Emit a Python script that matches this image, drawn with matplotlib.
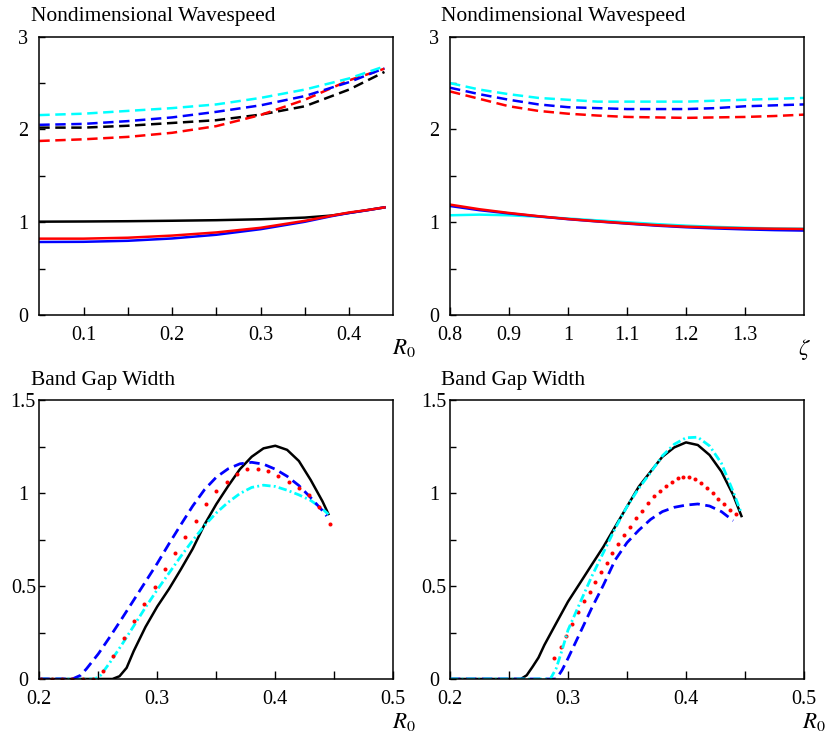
import matplotlib
matplotlib.use("Agg")
import matplotlib.pyplot as plt
from matplotlib.ticker import FixedLocator, FuncFormatter

plt.rcParams['font.family'] = ['Liberation Serif', 'DejaVu Serif']
plt.rcParams['mathtext.fontset'] = 'stix'
plt.rcParams['lines.scale_dashes'] = False

# ---------------- data: top-left (wavespeed vs R0) ----------------
r0_dash = [0.05, 0.10, 0.15, 0.20, 0.25, 0.30, 0.35, 0.40, 0.44]
tl_cyan_dash = [2.155, 2.17, 2.20, 2.23, 2.27, 2.34, 2.43, 2.55, 2.68]
tl_blue_dash = [2.05, 2.06, 2.09, 2.13, 2.19, 2.26, 2.36, 2.51, 2.66]
tl_black_dash = [2.02, 2.02, 2.04, 2.07, 2.10, 2.16, 2.25, 2.43, 2.62]
tl_red_dash = [1.876, 1.894, 1.92, 1.964, 2.036, 2.156, 2.32, 2.53, 2.655]

r0_solid = [0.05, 0.10, 0.15, 0.20, 0.25, 0.30, 0.35, 0.38, 0.40, 0.42, 0.44]
tl_black_solid = [1.006, 1.008, 1.011, 1.016, 1.022, 1.032, 1.05, 1.072, 1.10, 1.13, 1.16]
tl_red_solid = [0.823, 0.823, 0.833, 0.856, 0.89, 0.94, 1.015, 1.07, 1.105, 1.13, 1.16]
tl_blue_solid = [0.787, 0.789, 0.80, 0.825, 0.865, 0.925, 1.005, 1.065, 1.10, 1.128, 1.16]

# ---------------- data: top-right (wavespeed vs zeta) ----------------
zeta = [0.80, 0.85, 0.90, 0.95, 1.00, 1.05, 1.10, 1.15, 1.20, 1.25, 1.30, 1.35, 1.40]
tr_cyan_dash = [2.50, 2.43, 2.38, 2.34, 2.32, 2.30, 2.30, 2.30, 2.30, 2.31, 2.32, 2.33, 2.34]
tr_blue_dash = [2.45, 2.38, 2.32, 2.27, 2.24, 2.23, 2.22, 2.22, 2.22, 2.23, 2.25, 2.26, 2.27]
tr_red_dash = [2.41, 2.33, 2.25, 2.20, 2.17, 2.15, 2.135, 2.13, 2.125, 2.13, 2.135, 2.145, 2.16]
tr_cyan_solid = [1.075, 1.082, 1.075, 1.06, 1.04, 1.02, 1.0, 0.98, 0.963, 0.95, 0.94, 0.933, 0.93]
tr_blue_solid = [1.175, 1.13, 1.095, 1.063, 1.033, 1.008, 0.985, 0.963, 0.946, 0.933, 0.923, 0.915, 0.91]
tr_red_solid = [1.19, 1.14, 1.10, 1.065, 1.035, 1.01, 0.988, 0.968, 0.952, 0.942, 0.935, 0.93, 0.927]

# ---------------- data: bottom-left (band gap width vs R0) ----------------
bl_black_x = [0.2, 0.262, 0.268, 0.274, 0.28, 0.29, 0.30, 0.31, 0.32, 0.33, 0.34, 0.35,
              0.36, 0.37, 0.38, 0.39, 0.40, 0.41, 0.42, 0.43, 0.44, 0.445]
bl_black_y = [0, 0, 0.015, 0.06, 0.15, 0.28, 0.39, 0.485, 0.59, 0.70, 0.83, 0.94,
              1.037, 1.128, 1.195, 1.24, 1.254, 1.232, 1.172, 1.07, 0.955, 0.887]
bl_cyan_x = [0.2, 0.247, 0.252, 0.26, 0.27, 0.28, 0.29, 0.30, 0.31, 0.32, 0.33, 0.34,
             0.35, 0.36, 0.37, 0.38, 0.39, 0.40, 0.41, 0.42, 0.43, 0.44, 0.445]
bl_cyan_y = [0, 0, 0.02, 0.09, 0.185, 0.285, 0.385, 0.48, 0.57, 0.66, 0.745, 0.825,
             0.893, 0.95, 0.997, 1.03, 1.042, 1.035, 1.015, 0.99, 0.96, 0.915, 0.885]
bl_blue_x = [0.2, 0.228, 0.235, 0.24, 0.25, 0.26, 0.27, 0.28, 0.29, 0.30, 0.31, 0.32,
             0.33, 0.34, 0.35, 0.36, 0.37, 0.38, 0.39, 0.40, 0.41, 0.42, 0.43, 0.44, 0.4435]
bl_blue_y = [0, 0, 0.02, 0.055, 0.135, 0.228, 0.325, 0.424, 0.523, 0.622, 0.728, 0.83,
             0.93, 1.018, 1.085, 1.13, 1.157, 1.165, 1.155, 1.128, 1.09, 1.04, 0.975, 0.905, 0.876]
bl_red_x = [0.2017, 0.2105, 0.2193, 0.2281, 0.2369, 0.2457, 0.2536, 0.2627, 0.2720, 0.2803,
            0.2890, 0.2980, 0.3063, 0.3153, 0.3237, 0.3325, 0.3413, 0.3500, 0.3590,
            0.3678, 0.3763, 0.3853, 0.3941, 0.4025, 0.4116, 0.4198, 0.4286, 0.4373, 0.4461]
bl_red_y = [0, 0, 0, 0, 0, 0, 0.045, 0.125, 0.222, 0.313,
            0.403, 0.493, 0.590, 0.676, 0.762, 0.851, 0.939, 1.009, 1.061,
            1.100, 1.127, 1.131, 1.118, 1.091, 1.061, 1.025, 0.989, 0.923, 0.833]

# ---------------- data: bottom-right (band gap width vs R0) ----------------
br_black_x = [0.2, 0.26, 0.265, 0.27, 0.275, 0.28, 0.29, 0.30, 0.31, 0.32, 0.33, 0.34,
              0.35, 0.36, 0.37, 0.38, 0.39, 0.40, 0.41, 0.42, 0.43, 0.44, 0.447]
br_black_y = [0, 0, 0.02, 0.066, 0.115, 0.183, 0.30, 0.416, 0.514, 0.613, 0.711, 0.819,
              0.927, 1.034, 1.115, 1.195, 1.245, 1.272, 1.258, 1.204, 1.115, 0.989, 0.876]
br_cyan_x = [0.2, 0.285, 0.29, 0.295, 0.30, 0.31, 0.32, 0.33, 0.34, 0.35, 0.36, 0.37,
             0.38, 0.39, 0.40, 0.41, 0.42, 0.43, 0.44, 0.447]
br_cyan_y = [0, 0, 0.057, 0.156, 0.263, 0.407, 0.55, 0.68, 0.81, 0.927, 1.025, 1.11,
             1.20, 1.262, 1.297, 1.30, 1.253, 1.16, 1.007, 0.89]
br_blue_x = [0.2, 0.29, 0.295, 0.30, 0.31, 0.32, 0.33, 0.34, 0.35, 0.36, 0.37, 0.38,
             0.39, 0.40, 0.41, 0.42, 0.43, 0.44]
br_blue_y = [0, 0, 0.048, 0.111, 0.245, 0.38, 0.505, 0.64, 0.733, 0.80, 0.858, 0.90,
             0.923, 0.935, 0.941, 0.93, 0.90, 0.851]
br_red_x = [0.2884, 0.2938, 0.2980, 0.3034, 0.3088, 0.3133, 0.3186, 0.3232, 0.3280, 0.3328,
            0.3376, 0.3427, 0.3475, 0.3528, 0.3576, 0.3630, 0.3681, 0.3732, 0.3782, 0.3828,
            0.3878, 0.3929, 0.3977, 0.4023, 0.4073, 0.4124, 0.4175, 0.4226, 0.4274, 0.4325,
            0.4373, 0.4424]
br_red_y = [0.115, 0.170, 0.231, 0.294, 0.358, 0.421, 0.470, 0.523, 0.573, 0.625,
            0.676, 0.726, 0.774, 0.819, 0.864, 0.905, 0.944, 0.984, 1.011, 1.038,
            1.061, 1.079, 1.088, 1.088, 1.073, 1.052, 1.025, 1.00, 0.97, 0.94,
            0.91, 0.885]

# ---------------- styling ----------------
W, H = 825, 736
fig = plt.figure(figsize=(W / 100, H / 100), dpi=100)
fig.patch.set_facecolor('white')

def box(l, t, r, b):
    return [l / W, 1 - b / H, (r - l) / W, (b - t) / H]

ax1 = fig.add_axes(box(39.3, 36.7, 393.3, 315))
ax2 = fig.add_axes(box(450, 36.7, 804, 315))
ax3 = fig.add_axes(box(39.3, 400, 393.3, 679))
ax4 = fig.add_axes(box(450, 400, 804, 679))

LW = 1.8
DASH = (0, (7.5, 4.0))
DASH_B = (0, (7.5, 4.0))
DASHDOT = (0, (6.0, 2.3, 1.4, 2.3))

# top-left
ax1.plot(r0_dash, tl_black_dash, color='black', lw=LW, ls=DASH)
ax1.plot(r0_dash, tl_red_dash, color='red', lw=LW, ls=DASH)
ax1.plot(r0_dash, tl_blue_dash, color='blue', lw=LW, ls=DASH)
ax1.plot(r0_dash, tl_cyan_dash, color='cyan', lw=LW, ls=DASH)
ax1.plot(r0_solid, tl_black_solid, color='black', lw=LW)
ax1.plot(r0_solid, tl_blue_solid, color='blue', lw=LW)
ax1.plot(r0_solid, tl_red_solid, color='red', lw=LW)

# top-right
ax2.plot(zeta, tr_red_dash, color='red', lw=LW, ls=DASH)
ax2.plot(zeta, tr_blue_dash, color='blue', lw=LW, ls=DASH)
ax2.plot(zeta, tr_cyan_dash, color='cyan', lw=LW, ls=DASH)
ax2.plot(zeta, tr_cyan_solid, color='cyan', lw=LW)
ax2.plot(zeta, tr_blue_solid, color='blue', lw=LW)
ax2.plot(zeta, tr_red_solid, color='red', lw=LW)

# bottom-left
ax3.plot(bl_black_x, bl_black_y, color='black', lw=LW)
ax3.plot(bl_cyan_x, bl_cyan_y, color='cyan', lw=2.0, ls=DASHDOT)
ax3.plot(bl_blue_x, bl_blue_y, color='blue', lw=2.0, ls=DASH_B)
ax3.plot(bl_red_x, bl_red_y, color='red', ls='none', marker='o', ms=2.9, mew=0)

# bottom-right
ax4.plot(br_black_x, br_black_y, color='black', lw=LW)
ax4.plot(br_blue_x, br_blue_y, color='blue', lw=2.0, ls=DASH_B)
ax4.plot(br_red_x, br_red_y, color='red', ls='none', marker='o', ms=2.9, mew=0)
ax4.plot(br_cyan_x, br_cyan_y, color='cyan', lw=2.0, ls=DASHDOT)

def fmt_factory(labels):
    def f(v, pos):
        for lab in labels:
            if abs(v - lab) < 1e-9:
                return f'{lab:g}'
        return ''
    return FuncFormatter(f)

def style(ax, xlim, ylim, xticks, xlabels, yticks, ylabels):
    ax.set_xlim(*xlim)
    ax.set_ylim(*ylim)
    ax.xaxis.set_major_locator(FixedLocator(xticks))
    ax.yaxis.set_major_locator(FixedLocator(yticks))
    ax.xaxis.set_major_formatter(fmt_factory(xlabels))
    ax.yaxis.set_major_formatter(fmt_factory(ylabels))
    ax.tick_params(axis='x', direction='in', length=5.5, width=1.0, pad=8.0,
                   labelsize=14.5, top=False)
    ax.tick_params(axis='y', direction='in', length=4.5, width=1.0, pad=11.5,
                   labelsize=14.5, right=False)
    for lab in ax.get_yticklabels():
        lab.set_horizontalalignment('center')
    for s in ax.spines.values():
        s.set_linewidth(1.1)

style(ax1, (0.05, 0.45), (0, 3),
      [0.1, 0.15, 0.2, 0.25, 0.3, 0.35, 0.4], [0.1, 0.2, 0.3, 0.4],
      [0, 0.5, 1, 1.5, 2, 2.5, 3], [0, 1, 2, 3])
style(ax2, (0.8, 1.4), (0, 3),
      [0.8, 0.9, 1.0, 1.1, 1.2, 1.3], [0.8, 0.9, 1.0, 1.1, 1.2, 1.3],
      [0, 0.5, 1, 1.5, 2, 2.5, 3], [0, 1, 2, 3])
for ax in (ax3, ax4):
    style(ax, (0.2, 0.5), (0, 1.5),
          [0.2, 0.25, 0.3, 0.35, 0.4, 0.45, 0.5], [0.2, 0.3, 0.4, 0.5],
          [0, 0.25, 0.5, 0.75, 1.0, 1.25, 1.5], [0, 0.5, 1, 1.5])

# axis labels at the lower right corner
def corner_label(ax, text, dx, dy):
    ax.annotate(text, xy=(1, 0), xycoords='axes fraction', xytext=(dx, dy),
                textcoords='offset points', ha='center', va='center', fontsize=16.5,
                annotation_clip=False)

corner_label(ax1, r'$R_0$', 7.5, -24)
corner_label(ax2, r'$\zeta$', 0, -25)
corner_label(ax3, r'$R_0$', 7.5, -31)
corner_label(ax4, r'$R_0$', 7.0, -31)

# panel titles
TFS = 15.5
fig.text(31 / W, 1 - 21 / H, 'Nondimensional Wavespeed', fontsize=TFS, va='baseline', ha='left')
fig.text(441 / W, 1 - 21 / H, 'Nondimensional Wavespeed', fontsize=TFS, va='baseline', ha='left')
fig.text(31 / W, 1 - 385 / H, 'Band Gap Width', fontsize=TFS, va='baseline', ha='left')
fig.text(441 / W, 1 - 385 / H, 'Band Gap Width', fontsize=TFS, va='baseline', ha='left')

fig.savefig('out.png', dpi=100, facecolor='white')
